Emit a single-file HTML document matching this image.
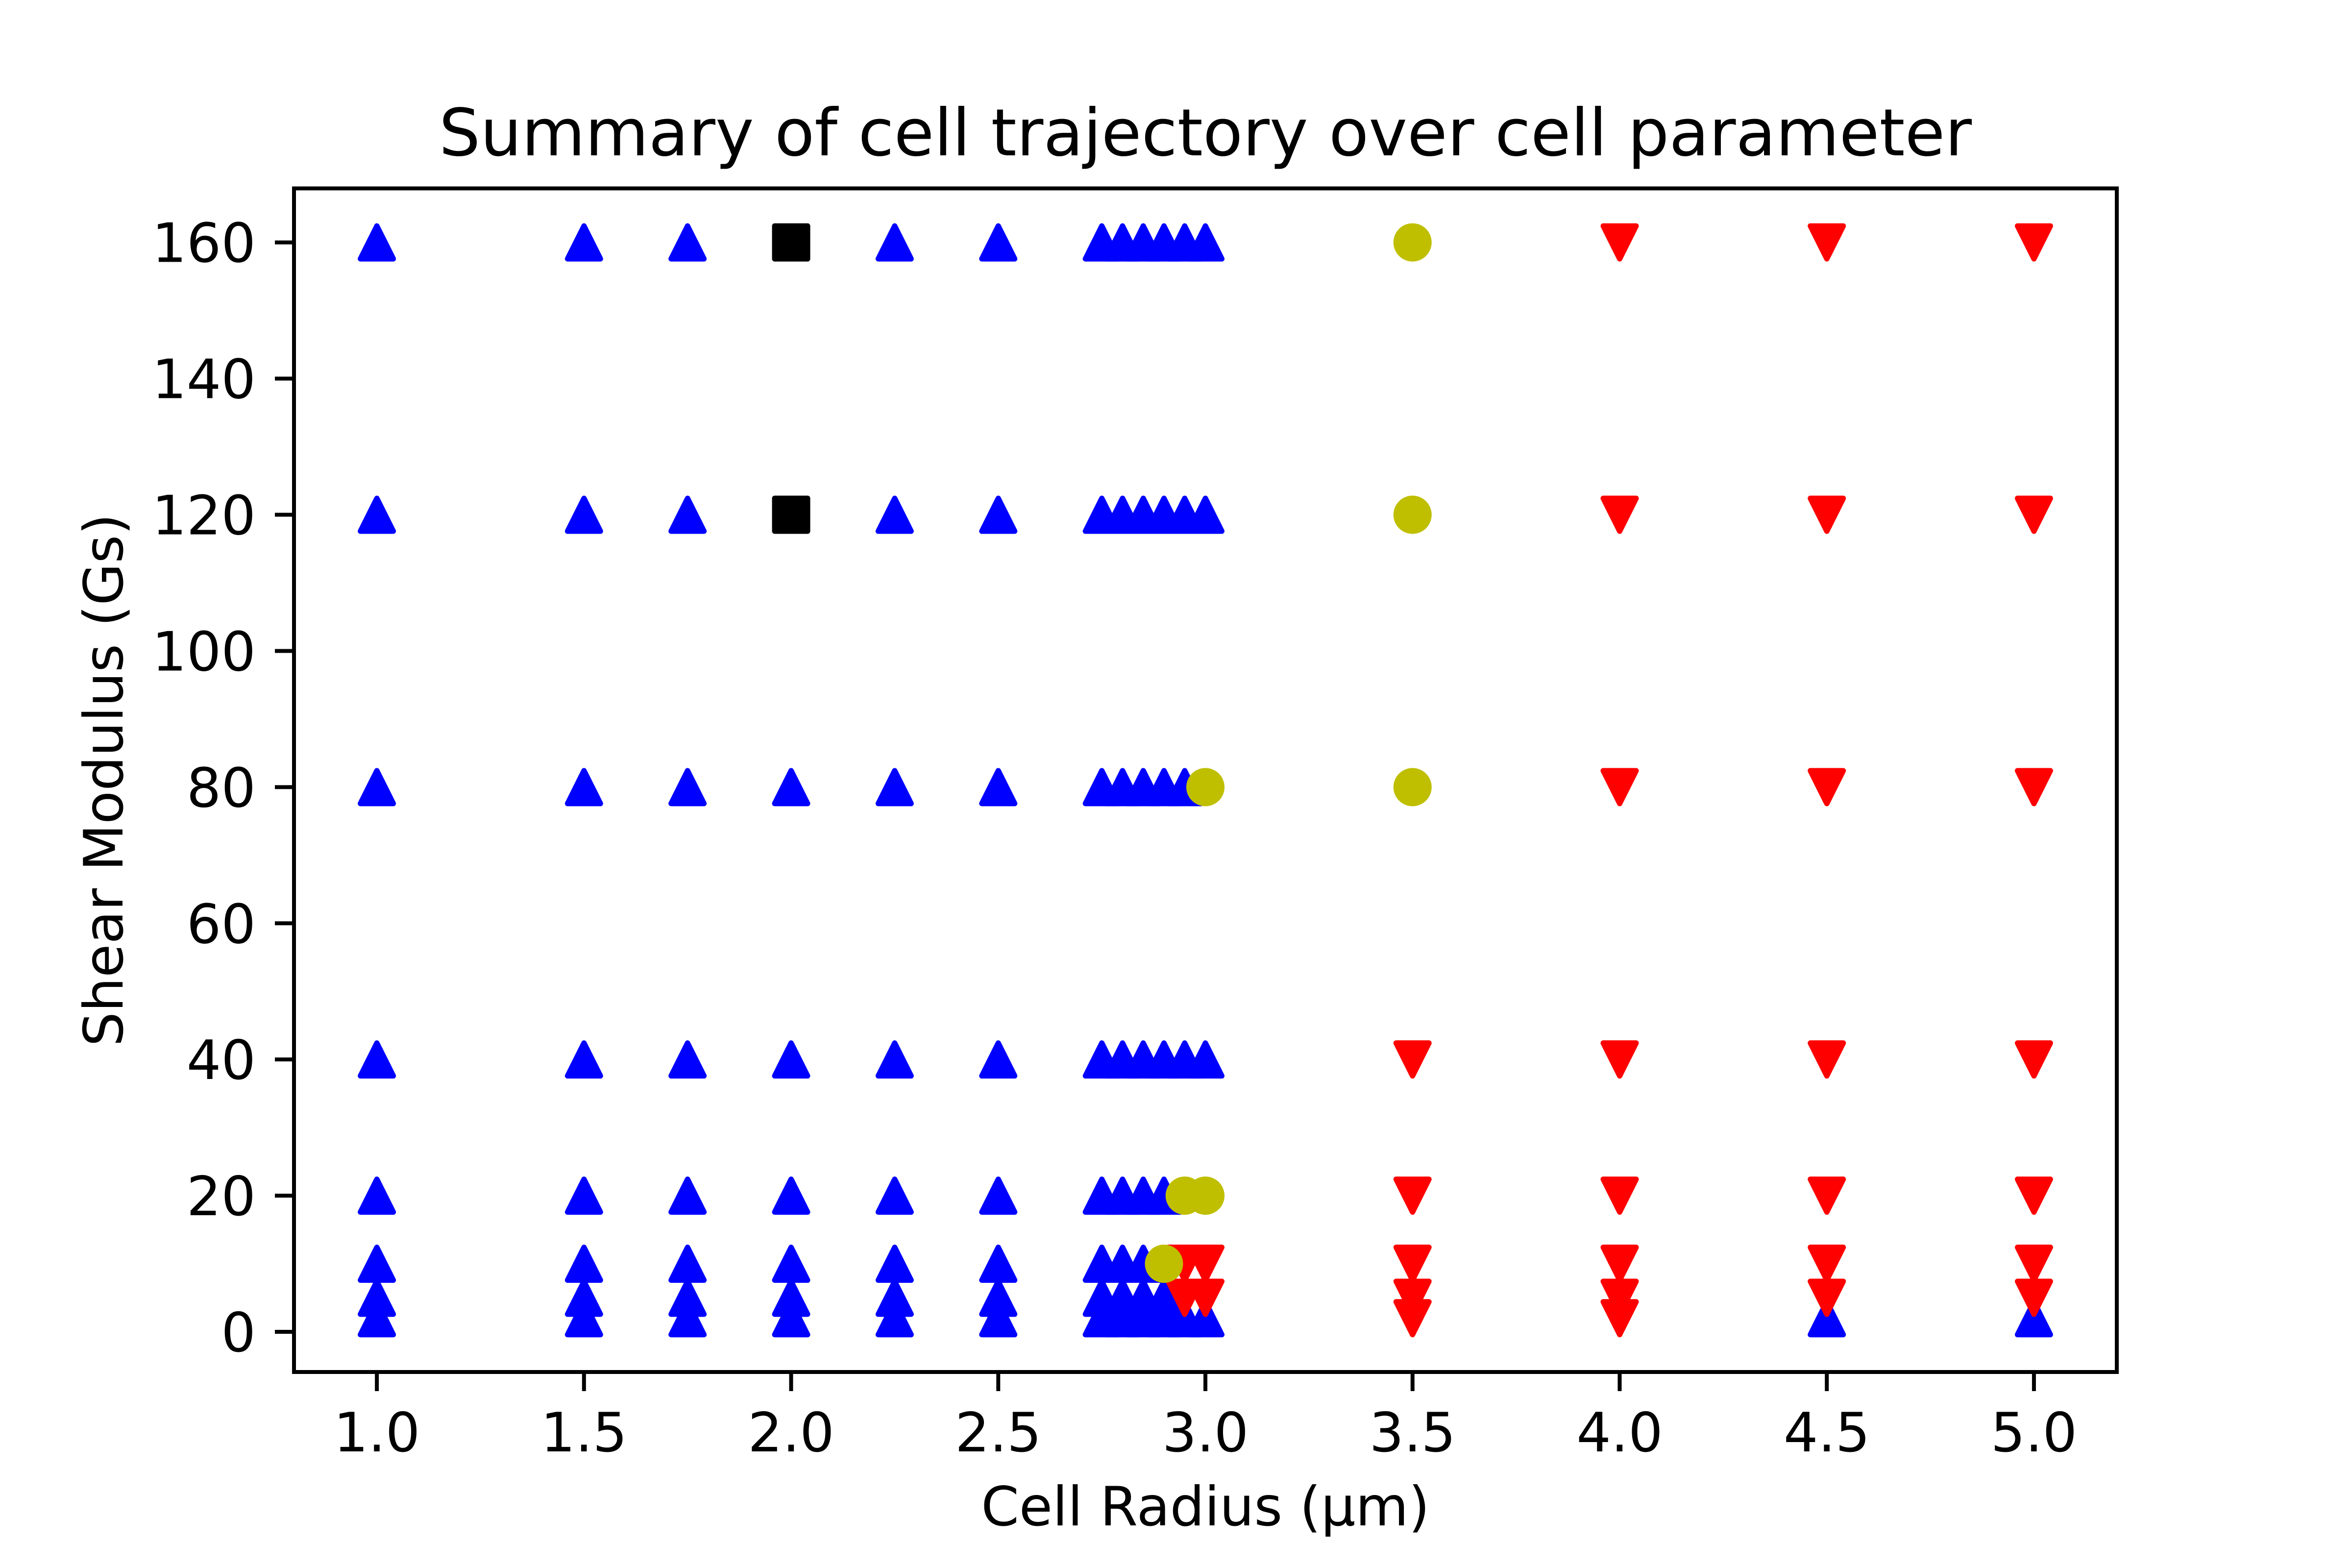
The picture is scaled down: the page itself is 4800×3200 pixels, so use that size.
<!DOCTYPE html>
<html><head><meta charset="utf-8"><style>
html,body{margin:0;padding:0;background:#fff;}
svg{display:block;}
text{font-family:"DejaVu Sans","Liberation Sans",sans-serif;fill:#000;}
</style></head><body>
<svg id="chart" xmlns="http://www.w3.org/2000/svg" width="4800" height="3200" viewBox="0 0 4800 3200">
<rect width="4800" height="3200" fill="#fff"/>
<text x="2460" y="317" font-size="133" text-anchor="middle">Summary of cell trajectory over cell parameter</text>
<g id="marks"></g>
<rect x="600" y="384.5" width="3720" height="2415.5" fill="none" stroke="#000" stroke-width="8"/>
<g id="xticks"></g>
<g id="yticks"></g>
<text x="2460" y="3113" font-size="111" text-anchor="middle">Cell Radius (μm)</text>
<text x="250" y="1592" font-size="111" text-anchor="middle" transform="rotate(-90 250 1592)">Shear Modulus (Gs)</text>
</svg>
<script>
const xTicks = [1.0, 1.5, 2.0, 2.5, 3.0, 3.5, 4.0, 4.5, 5.0];
const xTickLabels = ["1.0","1.5","2.0","2.5","3.0","3.5","4.0","4.5","5.0"];
const yTicks = [0, 20, 40, 60, 80, 100, 120, 140, 160];
const yTickLabels = ["0","20","40","60","80","100","120","140","160"];

const blueX = [
 1,1,1,1,1,1,1,1,
 1.5,1.5,1.5,1.5,1.5,1.5,1.5,1.5,
 1.75,1.75,1.75,1.75,1.75,1.75,1.75,1.75,
 2,2,2,2,2,2,
 2.25,2.25,2.25,2.25,2.25,2.25,2.25,2.25,
 2.5,2.5,2.5,2.5,2.5,2.5,2.5,2.5,
 2.75,2.75,2.75,2.75,2.75,2.75,2.75,2.75,
 2.8,2.8,2.8,2.8,2.8,2.8,2.8,2.8,
 2.85,2.85,2.85,2.85,2.85,2.85,2.85,2.85,
 2.9,2.9,2.9,2.9,2.9,2.9,2.9,
 2.95,2.95,2.95,2.95,2.95,
 3,3,3,3,
 4.5,5];
const blueY = [
 2,5,10,20,40,80,120,160,
 2,5,10,20,40,80,120,160,
 2,5,10,20,40,80,120,160,
 2,5,10,20,40,80,
 2,5,10,20,40,80,120,160,
 2,5,10,20,40,80,120,160,
 2,5,10,20,40,80,120,160,
 2,5,10,20,40,80,120,160,
 2,5,10,20,40,80,120,160,
 2,5,20,40,80,120,160,
 2,40,80,120,160,
 2,40,120,160,
 2,2];
const redX = [2.95,2.95,3,3, 3.5,3.5,3.5,3.5,3.5,
 4,4,4,4,4,4,4,4,
 4.5,4.5,4.5,4.5,4.5,4.5,4.5,
 5,5,5,5,5,5,5];
const redY = [5,10,5,10, 2,5,10,20,40,
 2,5,10,20,40,80,120,160,
 5,10,20,40,80,120,160,
 5,10,20,40,80,120,160];
const yellowX = [3.5,3.5,3.5,3,2.95,3,2.9];
const yellowY = [160,120,80,80,20,20,10];
const blackX = [2,2];
const blackY = [160,120];

const NS = "http://www.w3.org/2000/svg";
const AX_L = 600, AX_R = 4320, AX_T = 384.5, AX_B = 2800;
const XMIN = 0.8, XMAX = 5.2, YMIN = -5.9, YMAX = 167.93;
function sx(v){ return AX_L + (v - XMIN) / (XMAX - XMIN) * (AX_R - AX_L); }
function sy(v){ return AX_B - (v - YMIN) / (YMAX - YMIN) * (AX_B - AX_T); }
const H = 33.5, SW = 11;

const marks = document.getElementById('marks');
function addMark(kind, color, x, y, name){
  const cx = sx(x), cy = sy(y);
  let el;
  if (kind === 'circle') {
    el = document.createElementNS(NS, 'circle');
    el.setAttribute('cx', cx); el.setAttribute('cy', cy); el.setAttribute('r', H);
  } else if (kind === 'square') {
    el = document.createElementNS(NS, 'rect');
    el.setAttribute('x', cx - H); el.setAttribute('y', cy - H);
    el.setAttribute('width', 2*H); el.setAttribute('height', 2*H);
  } else {
    el = document.createElementNS(NS, 'path');
    const d = kind === 'up'
      ? `M${cx},${cy-H} L${cx-H},${cy+H} L${cx+H},${cy+H} Z`
      : `M${cx},${cy+H} L${cx-H},${cy-H} L${cx+H},${cy-H} Z`;
    el.setAttribute('d', d);
  }
  el.setAttribute('fill', color);
  el.setAttribute('stroke', color);
  el.setAttribute('stroke-width', SW);
  el.setAttribute('stroke-linejoin', 'round');
  
  
  marks.appendChild(el);
}
blueX.forEach((x,i)=>addMark('up','#0000ff',x,blueY[i],'blue-up-triangle-point'));
redX.forEach((x,i)=>addMark('down','#ff0000',x,redY[i],'red-down-triangle-point'));
yellowX.forEach((x,i)=>addMark('circle','#bfbf00',x,yellowY[i],'yellow-circle-point'));
blackX.forEach((x,i)=>addMark('square','#000000',x,blackY[i],'black-square-point'));

const xg = document.getElementById('xticks');
xTicks.forEach((v,i)=>{
  const x = sx(v);
  const l = document.createElementNS(NS,'line');
  l.setAttribute('x1',x); l.setAttribute('x2',x);
  l.setAttribute('y1',AX_B); l.setAttribute('y2',AX_B+39);
  l.setAttribute('stroke','#000'); l.setAttribute('stroke-width',8);
  
  
  xg.appendChild(l);
  const t = document.createElementNS(NS,'text');
  t.setAttribute('x',x); t.setAttribute('y',2962);
  t.setAttribute('font-size',111); t.setAttribute('text-anchor','middle');
  t.textContent = xTickLabels[i];
  
  
  xg.appendChild(t);
});
const yg = document.getElementById('yticks');
yTicks.forEach((v,i)=>{
  const y = sy(v);
  const l = document.createElementNS(NS,'line');
  l.setAttribute('x1',AX_L-39); l.setAttribute('x2',AX_L);
  l.setAttribute('y1',y); l.setAttribute('y2',y);
  l.setAttribute('stroke','#000'); l.setAttribute('stroke-width',8);
  
  
  yg.appendChild(l);
  const t = document.createElementNS(NS,'text');
  t.setAttribute('x',522); t.setAttribute('y',y+40);
  t.setAttribute('font-size',111); t.setAttribute('text-anchor','end');
  t.textContent = yTickLabels[i];
  
  
  yg.appendChild(t);
});
</script>
</body></html>
